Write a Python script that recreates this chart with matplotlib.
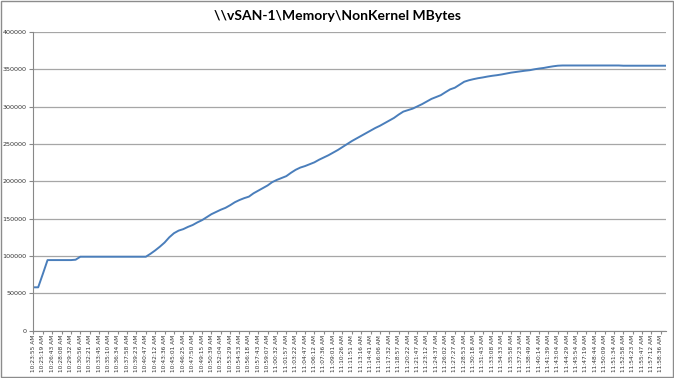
import numpy as np
import matplotlib
matplotlib.use("Agg")
import matplotlib.pyplot as plt
from matplotlib.patches import Rectangle

# tick labels (one every 2 samples)
time_labels = [
    "10:23:55 AM", "10:25:19 AM", "10:26:43 AM", "10:28:08 AM", "10:29:32 AM", "10:30:56 AM",
    "10:32:21 AM", "10:33:45 AM", "10:35:10 AM", "10:36:34 AM", "10:37:58 AM", "10:39:23 AM",
    "10:40:47 AM", "10:42:12 AM", "10:43:36 AM", "10:45:01 AM", "10:46:25 AM", "10:47:50 AM",
    "10:49:15 AM", "10:50:39 AM", "10:52:04 AM", "10:53:29 AM", "10:54:53 AM", "10:56:18 AM",
    "10:57:43 AM", "10:59:07 AM", "11:00:32 AM", "11:01:57 AM", "11:03:22 AM", "11:04:47 AM",
    "11:06:12 AM", "11:07:36 AM", "11:09:01 AM", "11:10:26 AM", "11:11:51 AM", "11:13:16 AM",
    "11:14:41 AM", "11:16:06 AM", "11:17:32 AM", "11:18:57 AM", "11:20:22 AM", "11:21:47 AM",
    "11:23:12 AM", "11:24:37 AM", "11:26:02 AM", "11:27:27 AM", "11:28:53 AM", "11:30:18 AM",
    "11:31:43 AM", "11:33:08 AM", "11:34:33 AM", "11:35:58 AM", "11:37:23 AM", "11:38:49 AM",
    "11:40:14 AM", "11:41:39 AM", "11:43:04 AM", "11:44:29 AM", "11:45:54 AM", "11:47:19 AM",
    "11:48:44 AM", "11:50:09 AM", "11:51:34 AM", "11:52:58 AM", "11:54:23 AM", "11:55:47 AM",
    "11:57:12 AM", "11:58:36 AM",
]

# NonKernel MBytes
mbytes = [
    58000, 58000, 76000, 94500, 94500, 94500, 94500, 94500, 94500, 95000,
    99000, 99000, 99000, 99000, 99000, 99000, 99000, 99000, 99000, 99000,
    99000, 99000, 99000, 99000, 99000, 103000, 107500, 112500, 118000, 125000,
    130500, 134000, 136000, 139000, 141500, 145000, 148000, 152000, 156000, 159000,
    162000, 164500, 168000, 172000, 175000, 177500, 179500, 184000, 187500, 191000,
    194500, 199000, 202000, 204500, 207000, 211500, 215500, 218500, 220500, 223000,
    225500, 229000, 232000, 235000, 238500, 242000, 246000, 250000, 254000, 257500,
    261000, 264500, 268000, 271500, 274500, 278000, 281500, 285000, 289500, 293500,
    295500, 297500, 300500, 303500, 307000, 310500, 313000, 315500, 319500, 323300,
    325500, 329500, 333500, 335500, 337000, 338300, 339300, 340500, 341500, 342300,
    343300, 344500, 345700, 346600, 347500, 348300, 349000, 350200, 351200, 352000,
    353200, 354200, 355000, 355300, 355300, 355300, 355300, 355300, 355300, 355300,
    355300, 355300, 355300, 355300, 355300, 355300, 355000, 355000, 355000, 355000,
    355000, 355000, 355000, 355000, 355000, 355000,
]

fig = plt.figure(figsize=(6.74, 3.78), dpi=100)
ax = fig.add_axes([0.0497, 0.1254, 0.9377, 0.7896])

x = np.arange(len(mbytes))
ax.plot(x, mbytes, color="#4a7ebb", lw=1.4)

ax.set_xlim(0, len(mbytes) - 1)
ax.set_ylim(0, 400000)
ax.set_yticks(np.arange(0, 400001, 50000))
ax.set_xticks(np.arange(0, 2 * len(time_labels), 2))
ax.set_xticklabels(time_labels, rotation=90, fontsize=4.2, color="#333333")
ax.tick_params(axis="y", labelsize=4.6, length=3, color="#888888", labelcolor="#333333", pad=2)
ax.tick_params(axis="x", length=2, color="#888888", pad=1)

ax.grid(axis="y", color="#a6a6a6", lw=0.9)
ax.set_axisbelow(True)
for side in ["top", "right"]:
    ax.spines[side].set_visible(False)
for side in ["left", "bottom"]:
    ax.spines[side].set_color("#888888")

fig.text(0.5, 0.958, "\\\\vSAN-1\\Memory\\NonKernel MBytes", ha="center", va="center",
         fontsize=10, fontweight="bold", family="Lato")

# chart border
fig.patches.append(Rectangle((0.0015, 0.0025), 0.997, 0.995, transform=fig.transFigure,
                             fill=False, edgecolor="#8c8c8c", lw=1))

fig.savefig("out.png", dpi=100)
